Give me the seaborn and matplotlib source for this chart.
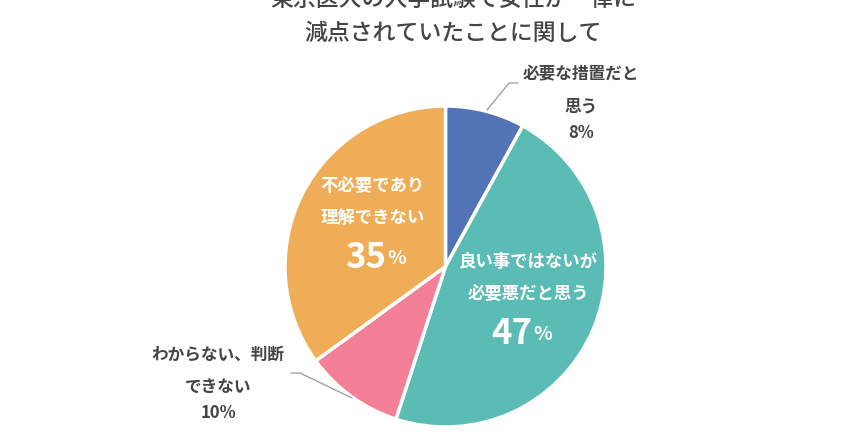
import matplotlib
matplotlib.use("Agg")
import matplotlib.pyplot as plt
import seaborn as sns

# 東京医大の入試での一律減点について
labels = ["必要な措置だと\n思う", "良い事ではないが\n必要悪だと思う", "わからない、判断\nできない", "不必要であり\n理解できない"]
values = [8, 47, 10, 35]
colors = ["#5273B5", "#5BBBB5", "#F38096", "#F0AD57"]
title_lines = ["東京医大の入学試験で女性が一律に", "減点されていたことに関して"]

sns.set_theme(style="white")
plt.rcParams['font.family'] = ['Noto Sans CJK JP', 'DejaVu Sans']

W, H = 862, 438
fig = plt.figure(figsize=(W / 100, H / 100), dpi=100)
ax = fig.add_axes([0, 0, 1, 1])

cx, cy, r = 445.5, H - 266.5, 160.5
ax.pie(values, colors=sns.color_palette(colors), startangle=90, counterclock=False,
       center=(cx, cy), radius=r, frame=True,
       wedgeprops=dict(edgecolor="white", linewidth=2.5))
ax.set_xlim(0, W)
ax.set_ylim(0, H)
ax.set_aspect("equal")
ax.axis("off")

dark = "#444444"
# タイトル（上端で切れている）
ax.text(453, H + 1, title_lines[0], ha="center", va="center", fontsize=16.5,
        color=dark, fontweight="medium")
ax.text(453, H - 33, title_lines[1], ha="center", va="center", fontsize=16.5,
        color=dark, fontweight="medium")

# 内側ラベル
def inner(x, y1, text, pct, px):
    ax.text(x, H - y1, text, ha="center", va="center", fontsize=12.5,
            color="white", fontweight="bold", linespacing=2.0)
    ax.text(px + 10, H - (y1 + 55), str(pct), ha="right", va="center",
            fontsize=25, color="white", fontweight="bold")
    ax.text(px + 11, H - (y1 + 57), "%", ha="left", va="center",
            fontsize=14, color="white", fontweight="bold")

inner(373, 202, labels[3], values[3], 376)
inner(528, 278, labels[1], values[1], 522)

# 外側ラベル
ax.text(581, H - 90, labels[0], ha="center", va="center", fontsize=12,
        color=dark, fontweight="bold", linespacing=2.0)
ax.text(581, H - 133, f"{values[0]}%", ha="center", va="center", fontsize=12,
        color=dark, fontweight="bold")
ax.plot([487, 509, 518], [H - 110, H - 83, H - 83], color="#999999", lw=0.9)

ax.text(218, H - 371, labels[2], ha="center", va="center", fontsize=12,
        color=dark, fontweight="bold", linespacing=2.0)
ax.text(218, H - 413, f"{values[2]}%", ha="center", va="center", fontsize=12,
        color=dark, fontweight="bold")
ax.plot([291, 300, 352], [H - 373, H - 373, H - 398], color="#999999", lw=0.9)

fig.savefig("out.png", dpi=100)
